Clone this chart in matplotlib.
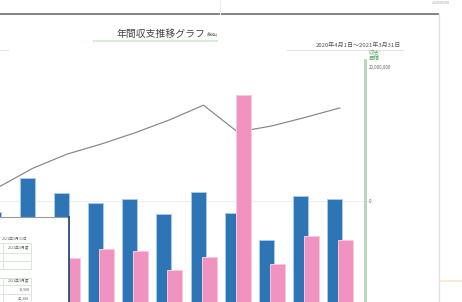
import numpy as np
import matplotlib
matplotlib.use('Agg')
import matplotlib.pyplot as plt
from matplotlib.patches import Rectangle
from matplotlib.lines import Line2D
from matplotlib.ticker import FuncFormatter

plt.rcParams['font.family'] = ['Noto Sans CJK JP', 'DejaVu Sans']

# monthly data (yen)
months = ['5月', '6月', '7月', '8月', '9月', '10月', '11月', '12月', '1月', '2月', '3月']
income = [14.6e6, 19.7e6, 17.5e6, 16.0e6, 16.6e6, 14.3e6, 17.6e6, 14.5e6, 10.4e6, 17.0e6, 16.6e6]
expense = [8.2e6, 9.0e6, 7.8e6, 9.1e6, 8.8e6, 6.0e6, 7.9e6, 32.1e6, 6.9e6, 11.0e6, 10.4e6]
balance = [2.1e6, 4.9e6, 7.0e6, 8.5e6, 10.2e6, 12.1e6, 14.3e6, 10.3e6, 11.2e6, 12.5e6, 13.9e6]
right_ticks = [0, 20000000]

W, H = 462, 302
STEP = 34.1      # pixels between month groups
PX_PER_M = 6.7   # pixels per 1,000,000 yen


def fx(x):
    return x / W


def fy(y):
    return 1 - y / H


def hline(x0, x1, y, color, lw, z=2):
    fig.lines.append(Line2D([fx(x0), fx(x1)], [fy(y), fy(y)], color=color, lw=lw,
                            transform=fig.transFigure, zorder=z))


def vline(x, y0, y1, color, lw, z=2):
    fig.lines.append(Line2D([fx(x), fx(x)], [fy(y0), fy(y1)], color=color, lw=lw,
                            transform=fig.transFigure, zorder=z))


fig = plt.figure(figsize=(W / 100, H / 100), dpi=100)
fig.patch.set_facecolor('white')

# line axes (cumulative balance, right scale), top edge at y=60px
ax = fig.add_axes([0, 0, fx(365), (H - 60) / H])
ax.set_facecolor('none')
x = np.arange(len(months))
ax.set_xlim(1.1 / STEP, (365 + 1.1) / STEP)
ax.set_ylim((201 - 302) / PX_PER_M * 1e6, (201 - 60) / PX_PER_M * 1e6)
ax.plot(x, balance, color='#858585', lw=0.85, zorder=1)
ax.axhline(0, xmin=0, xmax=372 / 365, color='#efefef', lw=0.8, clip_on=False, zorder=0)

# bar axes drawn above the line
axb = ax.twinx()
axb.set_ylim((310 - 302) / PX_PER_M * 1e6, (310 - 60) / PX_PER_M * 1e6)
axb.axis('off')
bw = 15 / STEP
off = 5.5 / STEP
axb.bar(x - off, income, width=bw, color='#2e75b6', edgecolor='#a9cbea', linewidth=0.7, zorder=2)
axb.bar(x + off, expense, width=bw, color='#f093c0', edgecolor='#f9c9de', linewidth=0.7, zorder=3)

for s in ['top', 'left', 'bottom']:
    ax.spines[s].set_visible(False)
ax.spines['right'].set_color('#b3d6b3')
ax.spines['right'].set_linewidth(2)
ax.yaxis.tick_right()
ax.set_yticks(right_ticks)
ax.yaxis.set_major_formatter(FuncFormatter(lambda v, p: f'{int(v):,}'))
ax.tick_params(axis='y', length=0, pad=3, labelsize=3.2, labelcolor='#666666')
ax.set_xticks([])

# title and header texts
fig.text(fx(161), fy(34), '年間収支推移グラフ', fontsize=7.1, color='#444444',
         ha='center', va='center')
fig.text(fx(206.5), fy(35), '(税込)', fontsize=3, color='#555555', ha='left', va='center')
hline(94, 217, 41, '#d9ebd9', 1.5)
fig.text(fx(358), fy(45), '2020年4月1日～2021年3月31日', fontsize=4.3, color='#555555',
         ha='center', va='center')
hline(287, 403, 49.5, '#e3e3e3', 0.8)
hline(0, 8, 49.5, '#e6e6e6', 0.8)
fig.text(fx(369), fy(55.5), '収支\n累積', fontsize=4.0, color='#6aa86a', linespacing=1.0,
         ha='left', va='center')

# page frame bits
hline(0, 438, 14, '#7a7a7a', 1.3)
vline(220, 0, 14, '#ececec', 0.8)
vline(439, 14, 302, '#dedede', 0.9)
hline(439, 462, 281, '#fde6cc', 1.2)
fig.text(fx(441), fy(3), '2020/00/00', fontsize=2.6, color='#a0a0a0', ha='center', va='center')

# overlapping summary panel at bottom left
panel = Rectangle((fx(0), fy(302)), fx(68.5), fy(217) - fy(302), facecolor='white',
                  edgecolor='none', transform=fig.transFigure, zorder=5)
fig.patches.append(panel)
hline(0, 68.5, 217, '#9a9a9a', 0.8, z=6)
vline(68.5, 217, 302, '#1f3f6e', 1.2, z=6)
cell = '#d6e8d6'
for yy in [243, 253, 261, 269, 277.5, 285, 293.5]:
    hline(0, 31.5, yy, cell, 0.7, z=6)
for xx in [3, 31.5]:
    for y0, y1 in [(243, 269), (277.5, 302)]:
        vline(xx, y0, y1, cell, 0.7, z=6)
small = dict(fontsize=2.7, color='#666666', ha='right', va='center', zorder=7)
fig.text(fx(28), fy(239), '2021年3月31日', **small)
fig.text(fx(29.5), fy(248), '2021年3月度', **small)
fig.text(fx(29.5), fy(281.5), '2021年3月度', **small)
fig.text(fx(29.5), fy(289.5), '19,908', **small)
fig.text(fx(29.5), fy(298), '44,208', **small)

fig.savefig('out.png', dpi=100, facecolor='white')
